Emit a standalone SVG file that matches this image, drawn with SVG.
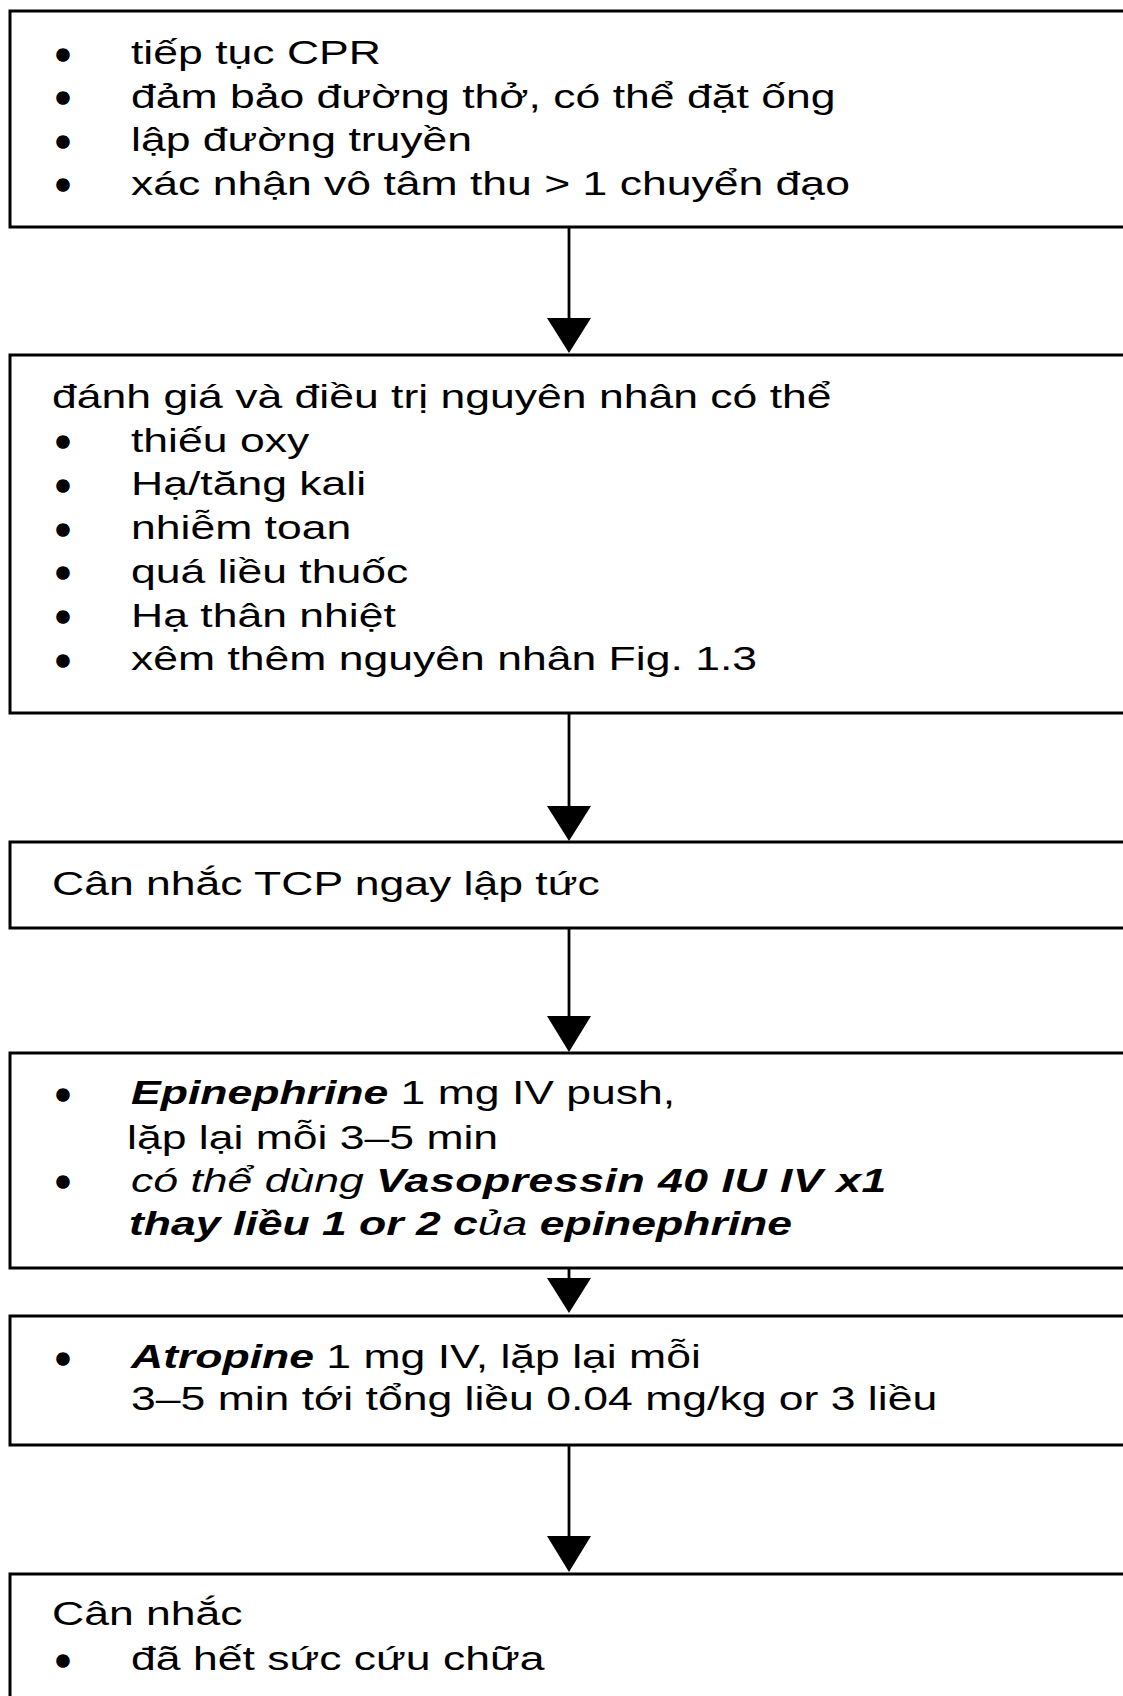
<svg xmlns="http://www.w3.org/2000/svg" width="1123" height="1696" viewBox="0 0 1123 1696">
<style>
.box{fill:#fff;stroke:#000;stroke-width:3}
.t{font-family:"Liberation Sans",Arial,sans-serif;font-size:32.5px;fill:#000}
.bu{font-family:"Liberation Sans",Arial,sans-serif;font-size:37px;fill:#000;stroke:#000;stroke-width:3.5;text-anchor:middle}
.bi{font-weight:bold;font-style:italic}
.i{font-style:italic}
.conn line{stroke:#000;stroke-width:2.8}
.conn polygon{fill:#000}
</style>
<rect width="1123" height="1696" fill="#fff"/>
<g id="node1">
<rect class="box" x="10" y="11" width="1200" height="216"/>
<text class="bu" x="63" y="66.6">•</text>
<text class="bu" x="63" y="110.1">•</text>
<text class="bu" x="63" y="153.6">•</text>
<text class="bu" x="63" y="197.1">•</text>
<text class="t" transform="matrix(1.37 0 0 1 131 64)">tiếp tục CPR</text>
<text class="t" transform="matrix(1.37 0 0 1 131 107.5)">đảm bảo đường thở, có thể đặt ống</text>
<text class="t" transform="matrix(1.37 0 0 1 131 151)">lập đường truyền</text>
<text class="t" transform="matrix(1.37 0 0 1 131 194.5)">xác nhận vô tâm thu &gt; 1 chuyển đạo</text>
</g>
<g id="node2">
<rect class="box" x="10" y="355" width="1200" height="358"/>
<text class="t" transform="matrix(1.37 0 0 1 52 408)">đánh giá và điều trị nguyên nhân có thể</text>
<text class="bu" x="63" y="454.3">•</text>
<text class="bu" x="63" y="498">•</text>
<text class="bu" x="63" y="541.6">•</text>
<text class="bu" x="63" y="585.4">•</text>
<text class="bu" x="63" y="629.1">•</text>
<text class="bu" x="63" y="672.8">•</text>
<text class="t" transform="matrix(1.37 0 0 1 131 451.7)">thiếu oxy</text>
<text class="t" transform="matrix(1.37 0 0 1 131 495.4)">Hạ/tăng kali</text>
<text class="t" transform="matrix(1.37 0 0 1 131 539)">nhiễm toan</text>
<text class="t" transform="matrix(1.37 0 0 1 131 582.8)">quá liều thuốc</text>
<text class="t" transform="matrix(1.37 0 0 1 131 626.5)">Hạ thân nhiệt</text>
<text class="t" transform="matrix(1.37 0 0 1 131 670.2)">xêm thêm nguyên nhân Fig. 1.3</text>
</g>
<g id="node3">
<rect class="box" x="10" y="842" width="1200" height="86"/>
<text class="t" transform="matrix(1.37 0 0 1 52 895)">Cân nhắc TCP ngay lập tức</text>
</g>
<g id="node4">
<rect class="box" x="10" y="1053" width="1200" height="215"/>
<text class="bu" x="63" y="1106.6">•</text>
<text class="bu" x="63" y="1194.1">•</text>
<text class="t" transform="matrix(1.37 0 0 1 131 1104)"><tspan class="bi">Epinephrine</tspan> 1 mg IV push,</text>
<text class="t" transform="matrix(1.37 0 0 1 127 1148.5)">lặp lại mỗi 3–5 min</text>
<text class="t" transform="matrix(1.37 0 0 1 131 1191.5)"><tspan class="i">có thể dùng </tspan><tspan class="bi" letter-spacing="0.4">Vasopressin 40 IU IV x1</tspan></text>
<text class="t" transform="matrix(1.37 0 0 1 129 1234.5)"><tspan class="bi">thay liều 1 or 2 c</tspan><tspan class="i">ủa</tspan><tspan class="bi"> epinephrine</tspan></text>
</g>
<g id="node5">
<rect class="box" x="10" y="1316" width="1200" height="129"/>
<text class="bu" x="63" y="1370.6">•</text>
<text class="t" transform="matrix(1.37 0 0 1 131 1368)"><tspan class="bi">Atropine</tspan> 1 mg IV, lặp lại mỗi</text>
<text class="t" transform="matrix(1.37 0 0 1 131 1410)">3–5 min tới tổng liều 0.04 mg/kg or 3 liều</text>
</g>
<g id="node6">
<rect class="box" x="10" y="1574" width="1200" height="200"/>
<text class="t" transform="matrix(1.37 0 0 1 52 1625)">Cân nhắc</text>
<text class="bu" x="63" y="1672.6">•</text>
<text class="t" transform="matrix(1.37 0 0 1 131 1670)">đã hết sức cứu chữa</text>
</g>
<g id="connectors" class="conn">
<line x1="569" y1="227" x2="569" y2="320"/>
<polygon points="547,318 591,318 569,353"/>
<line x1="569" y1="713" x2="569" y2="808"/>
<polygon points="547,806 591,806 569,841"/>
<line x1="569" y1="928" x2="569" y2="1018"/>
<polygon points="547,1016 591,1016 569,1052"/>
<line x1="569" y1="1268" x2="569" y2="1280"/>
<polygon points="547,1278 591,1278 569,1313"/>
<line x1="569" y1="1445" x2="569" y2="1538"/>
<polygon points="547,1536 591,1536 569,1572"/>
</g>
</svg>
